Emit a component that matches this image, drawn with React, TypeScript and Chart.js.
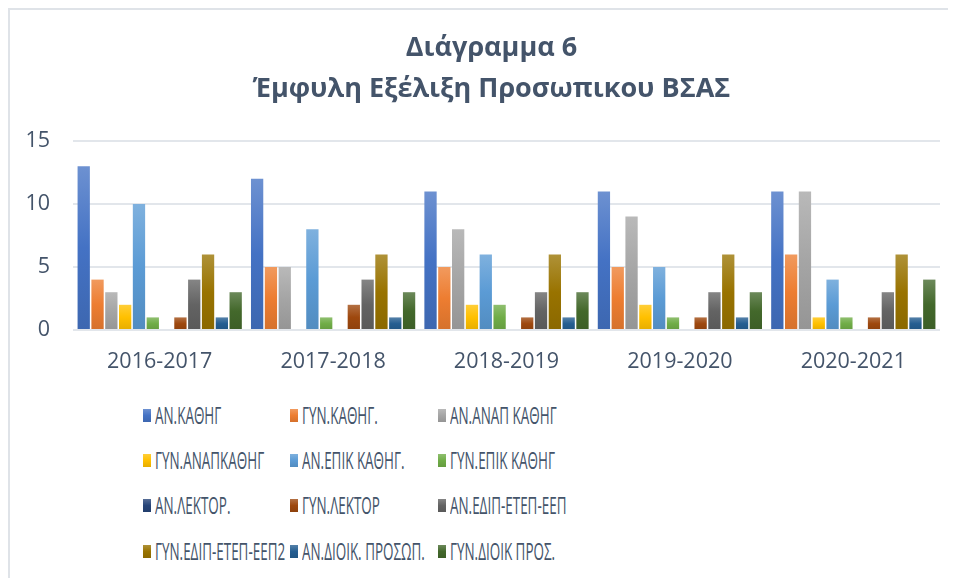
import React, { useEffect, useRef } from "react";
import { Chart, registerables } from "chart.js";

Chart.register(...registerables);

const categories = ["2016-2017", "2017-2018", "2018-2019", "2019-2020", "2020-2021"];
const seriesNames = [
  "ΑΝ.ΚΑΘΗΓ",
  "ΓΥΝ.ΚΑΘΗΓ.",
  "ΑΝ.ΑΝΑΠ ΚΑΘΗΓ",
  "ΓΥΝ.ΑΝΑΠΚΑΘΗΓ",
  "ΑΝ.ΕΠΙΚ ΚΑΘΗΓ.",
  "ΓΥΝ.ΕΠΙΚ ΚΑΘΗΓ",
  "ΑΝ.ΛΕΚΤΟΡ.",
  "ΓΥΝ.ΛΕΚΤΟΡ",
  "ΑΝ.ΕΔΙΠ-ΕΤΕΠ-ΕΕΠ",
  "ΓΥΝ.ΕΔΙΠ-ΕΤΕΠ-ΕΕΠ2",
  "ΑΝ.ΔΙΟΙΚ. ΠΡΟΣΩΠ.",
  "ΓΥΝ.ΔΙΟΙΚ ΠΡΟΣ.",
];
const anKathig = [13, 12, 11, 11, 11];
const gynKathig = [4, 5, 5, 5, 6];
const anAnapKathig = [3, 5, 8, 9, 11];
const gynAnapKathig = [2, 0, 2, 2, 1];
const anEpikKathig = [10, 8, 6, 5, 4];
const gynEpikKathig = [1, 1, 2, 1, 1];
const anLektor = [0, 0, 0, 0, 0];
const gynLektor = [1, 2, 1, 1, 1];
const anEdip = [4, 4, 3, 3, 3];
const gynEdip = [6, 6, 6, 6, 6];
const anDioik = [1, 1, 1, 1, 1];
const gynDioik = [3, 3, 3, 3, 4];
const seriesValues = [
  anKathig, gynKathig, anAnapKathig, gynAnapKathig, anEpikKathig, gynEpikKathig,
  anLektor, gynLektor, anEdip, gynEdip, anDioik, gynDioik,
];
const seriesColors = [
  "#4472C4", "#ED7D31", "#A5A5A5", "#FFC000", "#5B9BD5", "#70AD47",
  "#264478", "#9E480E", "#636363", "#997300", "#255E91", "#43682B",
];
const yTicks = [0, 5, 10, 15];

const TEXT = "#44546A";

function mix(hex: string, target: number, amt: number) {
  const n = parseInt(hex.slice(1), 16);
  const r = (n >> 16) & 255, g = (n >> 8) & 255, b = n & 255;
  const f = (c: number) => Math.round(c + (target - c) * amt);
  return `rgb(${f(r)},${f(g)},${f(b)})`;
}

const titleShift = {
  id: "titleShift",
  afterLayout(chart: any) {
    const t = chart.titleBlock;
    if (t) {
      t.left += 8;
      t.right += 8;
    }
  },
};

export default function App() {
  const ref = useRef<HTMLCanvasElement | null>(null);

  useEffect(() => {
    if (!ref.current) return;
    const chart = new Chart(ref.current, {
      type: "bar",
      plugins: [titleShift],
      data: {
        labels: categories,
        datasets: seriesNames.map((name, i) => ({
          label: name,
          data: seriesValues[i],
          backgroundColor: (ctx: any) => {
            const color = seriesColors[i];
            const c = ctx.chart;
            if (ctx.type !== "data" || !c.chartArea || !c.scales.y) return color;
            const y = c.scales.y;
            const top = y.getPixelForValue(ctx.raw);
            const bottom = y.getPixelForValue(0);
            if (!isFinite(top) || bottom - top < 1) return color;
            const g = c.ctx.createLinearGradient(0, top, 0, bottom);
            g.addColorStop(0, mix(color, 255, 0.22));
            g.addColorStop(0.5, color);
            g.addColorStop(1, mix(color, 0, 0.1));
            return g;
          },
          borderWidth: 0,
          categoryPercentage: 0.956,
          barPercentage: 0.89,
        })),
      },
      options: {
        responsive: false,
        animation: false,
        layout: { padding: { left: 17, right: 16, top: 0, bottom: 0 } },
        plugins: {
          legend: { display: false },
          tooltip: { enabled: false },
          title: {
            display: true,
            text: ["Διάγραμμα 6", "Έμφυλη Εξέλιξη Προσωπικου ΒΣΑΣ"],
            color: TEXT,
            font: { family: "'Open Sans', sans-serif", size: 27, weight: "bold", lineHeight: "41px" },
            padding: { top: 18, bottom: 31 },
          },
        },
        scales: {
          x: {
            grid: { display: false },
            border: { display: false },
            afterFit: (axis: any) => {
              axis.height = 50;
            },
            ticks: {
              color: TEXT,
              font: { family: "'Open Sans', sans-serif", size: 21.5 },
              padding: 11,
              maxRotation: 0,
            },
          },
          y: {
            min: 0,
            max: 15,
            afterBuildTicks: (axis: any) => {
              axis.ticks = yTicks.map((v) => ({ value: v }));
            },
            afterFit: (axis: any) => {
              axis.width = 46;
            },
            grid: { color: "#E2E6EB", lineWidth: 2, drawTicks: false },
            border: { display: false },
            ticks: {
              color: TEXT,
              font: { family: "'Open Sans', sans-serif", size: 21.5 },
              padding: 23,
            },
          },
        },
      },
    });
    return () => chart.destroy();
  }, []);

  const colX = [143, 290, 438];
  const rowY = [415, 460, 505, 551];

  return (
    <div
      style={{
        position: "relative",
        width: 948,
        height: 570,
        boxSizing: "border-box",
        borderLeft: "2px solid #DFE3E8",
        borderTop: "2px solid #DFE3E8",
        overflow: "hidden",
        background: "#fff",
      }}
    >
      <canvas ref={ref} width={946} height={370} style={{ position: "absolute", left: 0, top: 0 }} />
      {seriesNames.map((name, i) => {
        const col = i % 3;
        const row = Math.floor(i / 3);
        const x = colX[col] - 10;
        const y = rowY[row] - 10;
        const color = seriesColors[i];
        return (
          <div key={name} style={{ position: "absolute", left: x, top: y - 15, height: 30, display: "flex", alignItems: "center", whiteSpace: "nowrap" }}>
            <span
              style={{
                display: "inline-block",
                width: 8,
                height: 13,
                background: `linear-gradient(${mix(color, 255, 0.22)}, ${color}, ${mix(color, 0, 0.1)})`,
              }}
            />
            <span
              style={{
                marginLeft: 4,
                fontFamily: "'Open Sans', sans-serif",
                fontSize: 24,
                color: TEXT,
                display: "inline-block",
                transform: "scaleX(0.56)",
                transformOrigin: "left center",
                lineHeight: "30px",
              }}
            >
              {name}
            </span>
          </div>
        );
      })}
    </div>
  );
}
